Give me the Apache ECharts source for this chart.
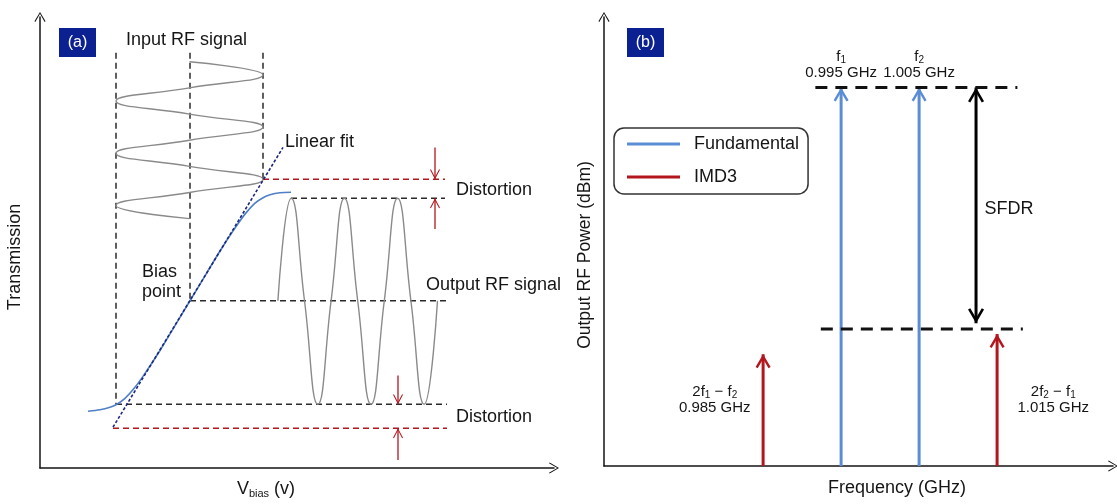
<!DOCTYPE html>
<html>
<head>
<meta charset="utf-8">
<script src="https://cdn.jsdelivr.net/npm/echarts@6/dist/echarts.min.js"></script>
<style>
  html, body { margin: 0; padding: 0; background: #fff; }
  #main { width: 1117px; height: 504px; }
</style>
</head>
<body>
<div id="main"></div>
<script>
// ---- panel (a): modulator transfer curve, arbitrary units ----
const transferV = [48, 60, 70, 76, 85, 95, 105, 120, 135, 150, 165, 180, 195, 205, 215, 223, 230, 240, 251];
const transferT = [57, 58.5, 61, 63.5, 70, 81, 95, 118, 143, 168, 193, 218, 241, 255, 266, 271.5, 274.5, 276.5, 277];
const fitV = [73, 243];
const fitT = [41, 322];
// input RF signal (vertical sine), peaks and crossings
const inputV = [149.5, 223, 149.5, 76, 149.5, 223, 149.5, 76, 149.5, 223, 149.5, 76, 149.5];
const inputT = [408, 394.9, 381.75, 368.6, 355.5, 342.4, 329.25, 316.1, 303, 289.9, 276.75, 263.6, 250.5];
// output RF signal (horizontal sine)
const outputV = [237.9, 251.2, 264.5, 277.8, 291.1, 304.4, 317.7, 331, 344.3, 357.6, 370.9, 384.2, 397.5];
const outputT = [168, 271, 168, 64, 168, 271, 168, 64, 168, 271, 168, 64, 168];
// guide lines: [from, to, level]
const guideBlack = [[251, 405, 271], [150, 407, 168], [76, 407, 64]];
const guideRed = [[223, 405, 290], [73, 407, 40]];
const guideVert = [[76, 417, 64], [150, 417, 168], [223, 417, 290]];
// distortion arrows: [x, from, to]
const distArrows = [[395, 322, 290], [395, 240, 271], [358, 93, 64], [358, 8, 40]];
const notesA = ['Input RF signal', 'Linear fit', 'Distortion', 'Output RF signal', 'Bias\npoint', 'Distortion'];
const notesAV = [86, 245, 416, 386, 102, 416];
const notesAT = [430, 327, 279, 184, 187, 51];

// ---- panel (b): spectrum ----
const toneFreq = [0.995, 1.005];            // GHz
const toneLevel = 84.3;
const imdFreq = [0.985, 1.015];
const imdLevel = [24.9, 29.4];
const topDash = [0.9917, 1.0176];
const floorDash = [0.9924, 1.0183];
const floorLevel = 30.5;
const sfdrFreq = 1.0123;
const sfdrSpan = [31.8, 84.3];
const toneNotes = ['{t|f}{s|1}\n{v|0.995 GHz}', '{t|f}{s|2}\n{v|1.005 GHz}'];
const imdNotes = ['{t|2f}{s|1}{t| \u2212 f}{s|2}\n{v|0.985 GHz}', '{t|2f}{s|2}{t| \u2212 f}{s|1}\n{v|1.015 GHz}'];
const imdNoteFreq = [0.9788, 1.0222];
const imdNoteLevel = 14.8;
const sfdrNote = [1.0134, 57.2];

const FONT = "'Liberation Sans', Arial, Helvetica, sans-serif";
const INK = '#151515';
const GRAY = '#8a8a8a';
const CURVE = '#4f7fc6';
const NAVY = '#1c2780';
const RED = '#b3161d';
const BLUE = '#5b8dd6';
const BADGE = '#0c2191';

const HEAD_BOLD = 'path://M50,0 L100,80 L86,88 L50,30 L14,88 L0,80 Z';
const HEAD_THIN = 'path://M50,0 L100,86 L91,91 L50,20 L9,91 L0,86 Z';
const AXIS_HEAD = 'path://M50,0 L100,84 L92,90 L50,16 L8,90 L0,84 Z';

const zip = (xs, ys) => xs.map((x, i) => [x, ys[i]]);

function line(g, pts, color, width, type, extra) {
  return Object.assign({
    type: 'line', xAxisIndex: g, yAxisIndex: g, data: pts, symbol: 'none', silent: true,
    lineStyle: {color: color, width: width, type: type || 'solid'}, z: 2
  }, extra || {});
}

function arrow(g, x, from, to, color, width, head, size, name) {
  const up = to > from;
  return {
    type: 'line', name: name, xAxisIndex: g, yAxisIndex: g, silent: true,
    symbol: head, symbolSize: size, showSymbol: true,
    data: [{value: [x, from], symbol: 'none'},
           {value: [x, to], symbolRotate: up ? 0 : 180, symbolOffset: [0, up ? '50%' : '-50%']}],
    lineStyle: {color: color, width: width}, itemStyle: {color: color}, z: 3
  };
}

// text annotations hung on invisible scatter points (scatter defaults to opacity 0.8, so reset it)
function notes(g, pts, texts, labelOpt) {
  return {
    type: 'scatter', xAxisIndex: g, yAxisIndex: g, symbolSize: 0, silent: true,
    itemStyle: {color: INK, opacity: 1}, data: pts, z: 5,
    label: Object.assign({
      show: true, color: INK, fontFamily: FONT, fontSize: 18, lineHeight: 20,
      formatter: p => texts[p.dataIndex]
    }, labelOpt)
  };
}

const smallRich = {
  t: {fontSize: 15, lineHeight: 17, color: INK, fontFamily: FONT},
  s: {fontSize: 10, lineHeight: 8, verticalAlign: 'bottom', color: INK, fontFamily: FONT},
  v: {fontSize: 15, lineHeight: 15, color: INK, fontFamily: FONT}
};

function axisLine() {
  return {show: true, onZero: false, lineStyle: {color: INK, width: 1.5},
    symbol: ['none', AXIS_HEAD], symbolSize: [12, 10]};
}
function bare(extra) {
  return Object.assign({
    type: 'value', axisLine: axisLine(), axisTick: {show: false},
    axisLabel: {show: false}, splitLine: {show: false}, nameLocation: 'middle'
  }, extra);
}

const series = [];
// panel (a)
guideVert.forEach(d => series.push(line(0, [[d[0], d[1]], [d[0], d[2]]], '#2a2a2a', 1.5, [6, 4])));
guideBlack.forEach(d => series.push(line(0, [[d[0], d[2]], [d[1], d[2]]], '#2a2a2a', 1.4, [6, 4])));
guideRed.forEach(d => series.push(line(0, [[d[0], d[2]], [d[1], d[2]]], RED, 1.4, [6, 4])));
series.push(line(0, zip(inputV, inputT), GRAY, 1.4, 'solid', {smooth: 0.5}));
series.push(line(0, zip(outputV, outputT), GRAY, 1.4, 'solid', {smooth: 0.5}));
series.push(line(0, zip(transferV, transferT), CURVE, 1.6, 'solid', {smooth: 0.3, z: 3}));
series.push(line(0, zip(fitV, fitT), NAVY, 1.6, [3, 2], {z: 4}));
distArrows.forEach(d => series.push(arrow(0, d[0], d[1], d[2], RED, 1.3, HEAD_THIN, [10, 10])));
series.push(notes(0, zip(notesAV, notesAT), notesA, {position: 'right', distance: 0}));

// panel (b)
series.push(line(1, [[topDash[0], toneLevel], [topDash[1], toneLevel]], '#111', 3, [12, 8], {z: 4}));
series.push(line(1, [[floorDash[0], floorLevel], [floorDash[1], floorLevel]], '#111', 3, [12, 8], {z: 4}));
toneFreq.forEach(f => series.push(arrow(1, f, 0, toneLevel, BLUE, 3, HEAD_BOLD, [15, 14], 'Fundamental')));
imdFreq.forEach((f, i) => series.push(arrow(1, f, 0, imdLevel[i], RED, 3, HEAD_BOLD, [15, 14], 'IMD3')));
series.push({
  type: 'line', xAxisIndex: 1, yAxisIndex: 1, silent: true, symbol: HEAD_BOLD, symbolSize: [16, 15],
  data: [{value: [sfdrFreq, sfdrSpan[0]], symbolRotate: 180, symbolOffset: [0, '-50%']},
         {value: [sfdrFreq, sfdrSpan[1]], symbolOffset: [0, '50%']}],
  lineStyle: {color: '#000', width: 3}, itemStyle: {color: '#000'}, z: 3
});
series.push(notes(1, toneFreq.map(f => [f, toneLevel]), toneNotes,
  {position: 'top', distance: 7, align: 'center', rich: smallRich}));
series.push(notes(1, imdNoteFreq.map(f => [f, imdNoteLevel]), imdNotes,
  {position: 'inside', align: 'center', rich: smallRich}));
series.push(notes(1, [sfdrNote], ['SFDR'], {position: 'right', distance: 0}));

const chart = echarts.init(document.getElementById('main'), null, {renderer: 'canvas'});
chart.setOption({
  animation: false,
  backgroundColor: '#fff',
  textStyle: {fontFamily: FONT},
  grid: [
    {left: 40, top: 17, width: 514, height: 453},
    {left: 604, top: 17, width: 509, height: 453}
  ],
  xAxis: [
    bare({gridIndex: 0, min: 0, max: 514, name: '{t|V}{s|bias}{t| (v)}', nameGap: 11,
      nameTextStyle: {padding: [0, 62, 0, 0], rich: {
        t: {fontSize: 18, lineHeight: 20, color: INK, fontFamily: FONT},
        s: {fontSize: 11, lineHeight: 8, verticalAlign: 'bottom', color: INK, fontFamily: FONT}}}}),
    bare({gridIndex: 1, min: 0.9646, max: 1.02986, name: 'Frequency (GHz)', nameGap: 11,
      nameTextStyle: {fontSize: 18, lineHeight: 22, color: INK, padding: [0, 0, 0, 77]}})
  ],
  yAxis: [
    bare({gridIndex: 0, min: 0, max: 453, name: 'Transmission', nameGap: 15,
      nameTextStyle: {fontSize: 18, lineHeight: 20, color: INK, padding: [0, 29, 0, 0]}}),
    bare({gridIndex: 1, min: 0, max: 100, name: 'Output RF Power (dBm)', nameGap: 9,
      nameTextStyle: {fontSize: 17.5, lineHeight: 20, color: INK, padding: [0, 27, 0, 0]}})
  ],
  legend: {
    data: ['Fundamental', 'IMD3'], orient: 'vertical', left: 614, top: 128,
    padding: [6, 9, 7, 13], itemGap: 13, itemWidth: 53, itemHeight: 3, icon: 'rect',
    borderColor: '#333', borderWidth: 1.5, borderRadius: 10, selectedMode: false,
    textStyle: {fontSize: 18, lineHeight: 20, color: INK, fontFamily: FONT, padding: [0, 0, 0, 9]}
  },
  graphic: [
    {type: 'rect', shape: {x: 59, y: 28, width: 37, height: 29}, style: {fill: BADGE}},
    {type: 'text', style: {x: 77.5, y: 43, text: '(a)', fill: '#fff', font: '16px ' + FONT, align: 'center', verticalAlign: 'middle'}},
    {type: 'rect', shape: {x: 627, y: 28, width: 37, height: 29}, style: {fill: BADGE}},
    {type: 'text', style: {x: 645.5, y: 43, text: '(b)', fill: '#fff', font: '16px ' + FONT, align: 'center', verticalAlign: 'middle'}}
  ],
  series: series
});
</script>
</body>
</html>
